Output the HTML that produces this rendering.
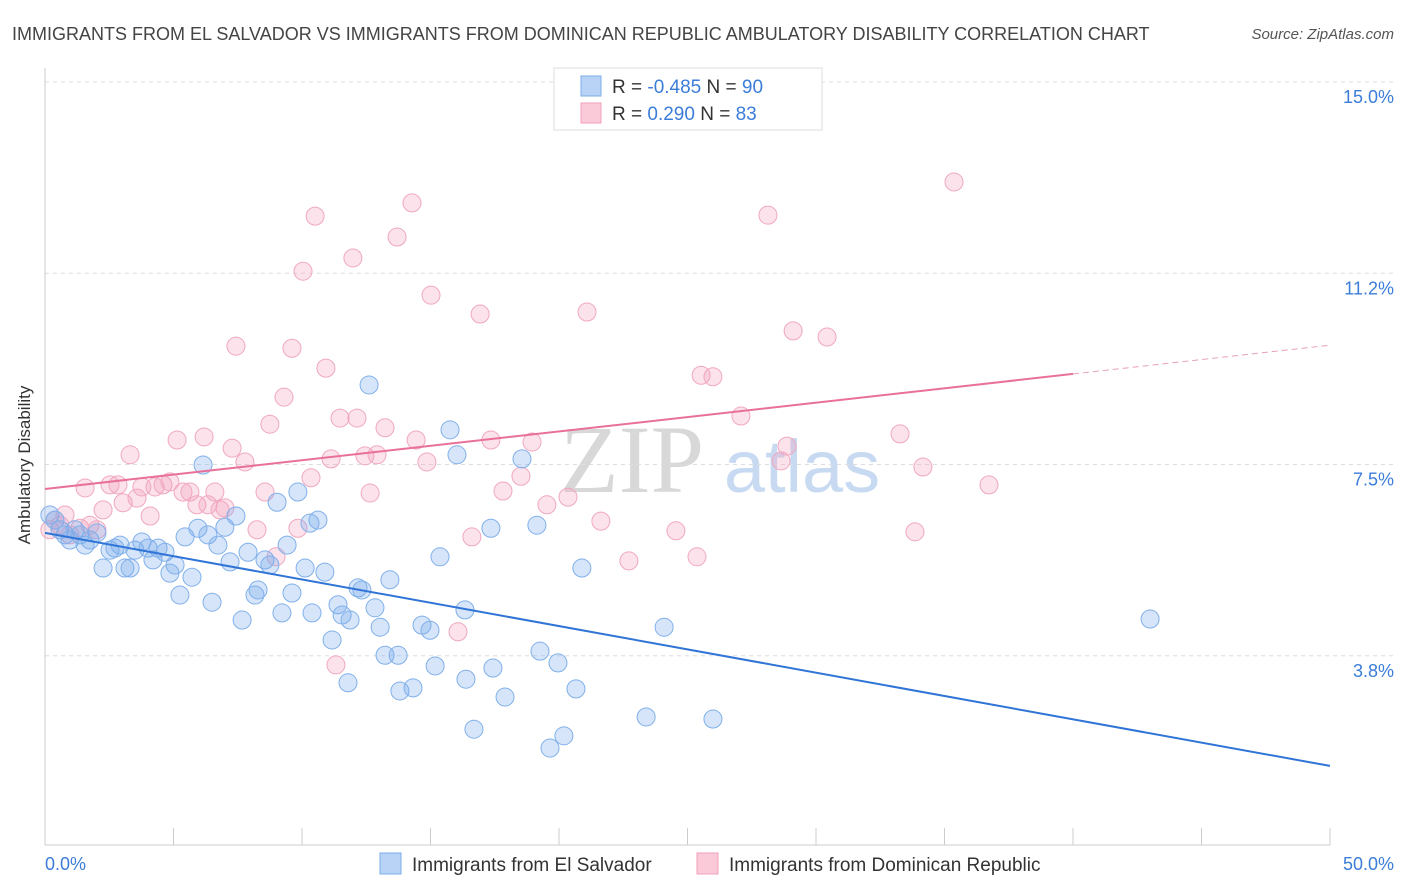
<!DOCTYPE html>
<html><head><meta charset="utf-8"><style>
body{margin:0;background:#fff;font-family:"Liberation Sans",sans-serif;}
svg{display:block}
</style></head><body>
<svg id="chart" width="1406" height="892" viewBox="0 0 1406 892">
<text x="12" y="40" font-size="18" fill="#444">IMMIGRANTS FROM EL SALVADOR VS IMMIGRANTS FROM DOMINICAN REPUBLIC AMBULATORY DISABILITY CORRELATION CHART</text>
<text x="1394" y="39" font-size="15" fill="#555" font-style="italic" text-anchor="end">Source: ZipAtlas.com</text>
<g>
<text x="632" y="492" font-size="96" fill="#d8d8d8" font-family="Liberation Serif,serif" text-anchor="middle">ZIP</text>
<text x="802" y="492" font-size="74" fill="#c8daf2" text-anchor="middle">atlas</text>
</g>
<g id="grid"></g>
<line x1="45" y1="68" x2="45" y2="845" stroke="#ccc"/>
<line x1="45" y1="845" x2="1330" y2="845" stroke="#ccc"/>
<g id="xticks"></g>
<text x="20" y="455" font-size="17" fill="#333" transform="rotate(-90 30 455)" text-anchor="middle">Ambulatory Disability</text>
<text x="45" y="870" font-size="18" fill="#3b7dd8">0.0%</text>
<text x="1394" y="870" font-size="18" fill="#3b7dd8" text-anchor="end">50.0%</text>
<g id="pts"></g>
<g id="lines"></g>
<g>
<rect x="554" y="68" width="268" height="62" fill="#fff" stroke="#ddd"/>
<rect x="581" y="76" width="20" height="20" fill="#b8d3f5" stroke="#7aaee8"/>
<rect x="581" y="103" width="20" height="20" fill="#fbcad9" stroke="#f0a0ba"/>
<text x="612" y="93" font-size="19" fill="#333">R = <tspan fill="#3b7dd8">-0.485</tspan>   N = <tspan fill="#3b7dd8">90</tspan></text>
<text x="612" y="120" font-size="19" fill="#333">R =  <tspan fill="#3b7dd8"> 0.290</tspan>   N =  <tspan fill="#3b7dd8">83</tspan></text>
</g>
<g>
<rect x="380" y="853" width="21" height="21" fill="#b8d3f5" stroke="#7aaee8"/>
<text x="412" y="871" font-size="19" fill="#333">Immigrants from El Salvador</text>
<rect x="697" y="853" width="21" height="21" fill="#fbcad9" stroke="#f0a0ba"/>
<text x="729" y="871" font-size="19" fill="#333">Immigrants from Dominican Republic</text>
</g>
</svg>
<script>
const yTicks=[15.0,11.25,7.5,3.75];
const yTickLabels=["15.0%","11.2%","7.5%","3.8%"];
const xTicks=[0,5,10,15,20,25,30,35,40,45,50];
const blueX=[.19,.39,.58,.78,.97,1.17,1.36,1.56,1.75,2.02,2.26,2.53,2.72,2.92,3.11,3.31,3.50,3.77,4.01,4.20,4.40,4.67,4.86,5.06,5.25,5.45,5.72,5.95,6.15,6.34,6.50,6.73,7.00,7.20,7.43,7.67,7.90,8.17,8.29,8.56,8.75,9.03,9.22,9.42,9.61,9.84,10.12,10.31,10.39,10.62,10.89,11.17,11.40,11.56,11.79,11.87,12.18,12.33,12.61,12.84,13.04,13.23,13.42,13.74,13.81,14.32,14.67,14.98,15.18,15.37,15.76,16.03,16.34,16.38,16.69,17.35,17.43,17.90,18.56,19.14,19.26,19.65,19.96,20.19,20.66,20.89,23.39,24.09,25.99,43.00];
const blueY=[6.51,6.41,6.22,6.12,6.02,6.22,6.12,5.92,6.02,6.16,5.47,5.82,5.86,5.92,5.47,5.47,5.82,5.98,5.86,5.63,5.86,5.78,5.37,5.53,4.94,6.08,5.29,6.25,7.49,6.12,4.80,5.92,6.27,5.59,6.49,4.45,5.78,4.94,5.04,5.63,5.53,6.76,4.59,5.92,4.98,6.96,5.47,6.35,4.59,6.41,5.39,4.06,4.75,4.55,3.22,4.45,5.08,5.04,9.06,4.69,4.31,3.76,5.24,3.76,3.06,3.12,4.35,4.25,3.55,5.69,8.18,7.69,4.65,3.29,2.31,6.25,3.51,2.94,7.61,6.31,3.84,1.94,3.61,2.18,3.10,5.47,2.55,4.31,2.51,4.47];
const pinkX=[.19,.39,.58,.78,.97,1.36,1.56,1.75,2.02,2.26,2.53,2.84,3.04,3.31,3.58,3.77,4.09,4.28,4.59,4.86,5.14,5.37,5.64,5.91,6.19,6.34,6.61,6.81,7.00,7.28,7.43,7.78,8.25,8.56,8.75,8.99,9.30,9.61,9.84,10.04,10.35,10.51,10.93,11.13,11.32,11.48,11.98,12.14,12.45,12.65,12.92,13.23,13.70,14.28,14.44,14.86,15.02,16.07,16.61,16.93,17.35,17.82,18.52,18.95,19.53,20.35,21.09,21.63,22.72,24.55,25.37,25.53,25.99,27.08,28.13,28.64,28.87,29.11,30.43,33.27,33.85,34.16,35.37,36.73];
const pinkY=[6.22,6.41,6.31,6.51,6.12,6.25,7.04,6.31,6.22,6.61,7.10,7.10,6.75,7.69,6.84,7.06,6.49,7.06,7.10,7.16,7.98,6.96,6.96,6.71,8.04,6.71,6.96,6.61,6.65,7.82,9.82,7.55,6.22,6.96,8.29,5.69,8.82,9.78,6.25,11.29,7.24,12.37,9.39,7.61,3.57,8.41,11.55,8.41,7.67,6.94,7.69,8.22,11.96,12.63,7.98,7.55,10.82,4.22,6.08,10.45,7.98,6.98,7.27,7.94,6.71,6.86,10.49,6.39,5.61,6.20,5.69,9.25,9.22,8.45,12.39,7.57,7.86,10.12,10.00,8.10,6.18,7.45,13.04,7.10];
const blueTrend=[6.16,-0.0914];
const pinkTrend=[7.02,0.0564];
const pinkSolidEnd=40;
const NS="http://www.w3.org/2000/svg";
const X=v=>45+v*25.7, Y=v=>82+(15-v)*51;
function mk(t,a,p){const e=document.createElementNS(NS,t);for(const k in a)e.setAttribute(k,a[k]);p.appendChild(e);return e;}
const grid=document.getElementById('grid');
yTicks.forEach((t,i)=>{
 const l=mk('line',{x1:45,x2:1394,y1:Y(t),y2:Y(t),stroke:'#ddd','stroke-dasharray':'4 4'},grid);
 
 
 const tx=mk('text',{x:1394,y:Y(t)+21,'font-size':18,fill:'#3b7dd8','text-anchor':'end'},grid);
 tx.textContent=yTickLabels[i];
 
 
});
const xt=document.getElementById('xticks');
xTicks.forEach(t=>{
 const l=mk('line',{x1:X(t),x2:X(t),y1:828,y2:845,stroke:'#ccc'},xt);
 
 
});
const pts=document.getElementById('pts');
pinkX.forEach((x,i)=>{
 const c=mk('circle',{cx:X(x),cy:Y(pinkY[i]),r:9,fill:'rgba(243,160,188,0.3)',stroke:'#f0a8c0','stroke-width':1},pts);
 
 
});
blueX.forEach((x,i)=>{
 const c=mk('circle',{cx:X(x),cy:Y(blueY[i]),r:9,fill:'rgba(120,170,235,0.3)',stroke:'#80b0ea','stroke-width':1},pts);
 
 
});
const ln=document.getElementById('lines');
const f=(tr,x)=>tr[0]+tr[1]*x;
let b=mk('line',{x1:X(0),y1:Y(f(blueTrend,0)),x2:X(50),y2:Y(f(blueTrend,50)),stroke:'#2f74d6','stroke-width':2},ln);


let p=mk('line',{x1:X(0),y1:Y(f(pinkTrend,0)),x2:X(pinkSolidEnd),y2:Y(f(pinkTrend,pinkSolidEnd)),stroke:'#e8709a','stroke-width':2},ln);


let pd=mk('line',{x1:X(pinkSolidEnd),y1:Y(f(pinkTrend,pinkSolidEnd)),x2:X(50),y2:Y(f(pinkTrend,50)),stroke:'#e8a0b8','stroke-width':1,'stroke-dasharray':'6 4'},ln);


</script>
</body></html>
